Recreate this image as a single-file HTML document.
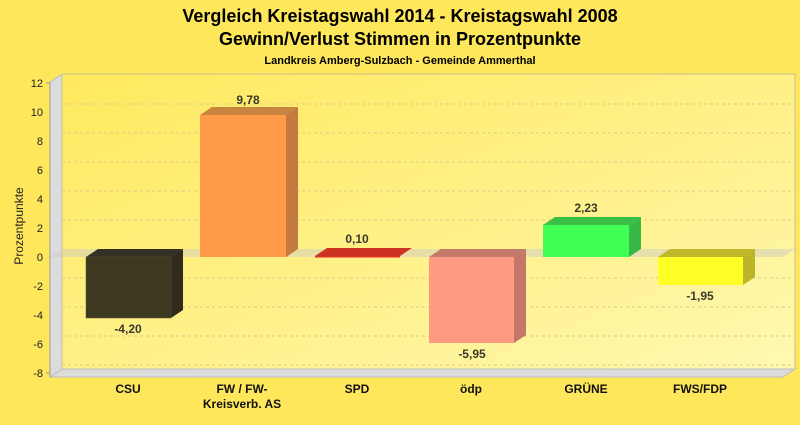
<!DOCTYPE html>
<html><head><meta charset="utf-8"><style>
body{margin:0;width:800px;height:420px;overflow:hidden;background:#ffe75c;font-family:"Liberation Sans",sans-serif}
</style></head><body>
<svg width="800" height="420" xmlns="http://www.w3.org/2000/svg" font-family="Liberation Sans, sans-serif">
<defs>
<linearGradient id="wall" x1="0" y1="0" x2="1" y2="1">
<stop offset="0" stop-color="#ffe95e"/><stop offset="1" stop-color="#fff8b0"/>
</linearGradient>
</defs>
<rect width="800" height="420" fill="#ffe75c"/>
<text x="400" y="22" text-anchor="middle" font-size="18" font-weight="bold">Vergleich Kreistagswahl 2014 - Kreistagswahl 2008</text>
<text x="400" y="45" text-anchor="middle" font-size="18" font-weight="bold">Gewinn/Verlust Stimmen in Prozentpunkte</text>
<text x="400" y="64" text-anchor="middle" font-size="11" font-weight="bold">Landkreis Amberg-Sulzbach - Gemeinde Ammerthal</text>
<!-- left wall -->
<polygon points="50,82 62,74 62,369 50,377" fill="#dcdcdc" stroke="#bbb" stroke-width="1"/>
<!-- back wall -->
<rect x="62" y="74" width="733" height="295" fill="url(#wall)" stroke="#c8c090" stroke-width="1"/>
<!-- floor -->
<polygon points="50,377 62,369 795,369 783,377" fill="#dcdcdc" stroke="#bbb" stroke-width="1"/>
<g stroke="#d8cc88" stroke-dasharray="3,3" stroke-width="1">
<line x1="62" y1="104" x2="795" y2="104"/><line x1="62" y1="133" x2="795" y2="133"/>
<line x1="62" y1="162" x2="795" y2="162"/><line x1="62" y1="191" x2="795" y2="191"/>
<line x1="62" y1="220" x2="795" y2="220"/><line x1="62" y1="278" x2="795" y2="278"/>
<line x1="62" y1="307" x2="795" y2="307"/><line x1="62" y1="336" x2="795" y2="336"/>
<line x1="62" y1="365" x2="795" y2="365"/>
</g>
<!-- zero plane -->
<polygon points="50,257 62,249 795,249 783,257" fill="#c8c8c8" fill-opacity="0.45"/>
<!-- axis -->
<line x1="50" y1="82" x2="50" y2="377" stroke="#999"/>
<g font-size="11" text-anchor="end" fill="#222">
<text x="43" y="87">12</text><text x="43" y="116">10</text><text x="43" y="145">8</text>
<text x="43" y="174">6</text><text x="43" y="203">4</text><text x="43" y="232">2</text>
<text x="43" y="261">0</text><text x="43" y="290">-2</text><text x="43" y="319">-4</text>
<text x="43" y="348">-6</text><text x="43" y="377">-8</text>
</g>
<g stroke="#999"><line x1="46" y1="83" x2="50" y2="83"/><line x1="46" y1="373" x2="50" y2="373"/></g>
<text transform="translate(23,226) rotate(-90)" text-anchor="middle" font-size="12" fill="#222">Prozentpunkte</text>
<!-- bars -->
<!-- CSU -->
<polygon points="86,257 98,249 183,249 171,257" fill="#333024"/>
<polygon points="171,257 183,249 183,310 171,318" fill="#2f2c1c"/>
<rect x="86" y="257" width="85" height="61" fill="#3d3820" stroke="#5a5430" stroke-width="0.5"/>
<!-- FW -->
<polygon points="200,115 212,107 298,107 286,115" fill="#c98440"/>
<polygon points="286,115 298,107 298,249 286,257" fill="#c47a3e"/>
<rect x="200" y="115" width="86" height="142" fill="#ff9b48"/>
<!-- SPD -->
<polygon points="315,256 327,248 412,248 400,256" fill="#cc3322"/>
<rect x="315" y="256" width="85" height="1.5" fill="#e03020"/>
<!-- ödp -->
<polygon points="429,257 441,249 526,249 514,257" fill="#c47a6a"/>
<polygon points="514,257 526,249 526,335 514,343" fill="#c47868"/>
<rect x="429" y="257" width="85" height="86" fill="#ff9a82"/>
<!-- GRÜNE -->
<polygon points="543,225 555,217 641,217 629,225" fill="#3ac046"/>
<polygon points="629,225 641,217 641,249 629,257" fill="#38b844"/>
<rect x="543" y="225" width="86" height="32" fill="#40ff55"/>
<!-- FWS -->
<polygon points="658,257 670,249 755,249 743,257" fill="#c0b828"/>
<polygon points="743,257 755,249 755,277 743,285" fill="#bdb528"/>
<rect x="658" y="257" width="85" height="28" fill="#ffff28"/>
<!-- value labels -->
<g font-size="12" font-weight="bold" fill="#3a3a2a" text-anchor="middle">
<text x="128" y="333">-4,20</text>
<text x="248" y="104">9,78</text>
<text x="357" y="243">0,10</text>
<text x="472" y="358">-5,95</text>
<text x="586" y="212">2,23</text>
<text x="700" y="300">-1,95</text>
</g>
<g font-size="12" font-weight="bold" fill="#111" text-anchor="middle">
<text x="128" y="393">CSU</text>
<text x="242" y="393">FW / FW-</text>
<text x="242" y="408">Kreisverb. AS</text>
<text x="357" y="393">SPD</text>
<text x="471" y="393">ödp</text>
<text x="586" y="393">GRÜNE</text>
<text x="700" y="393">FWS/FDP</text>
</g>
</svg>
</body></html>
